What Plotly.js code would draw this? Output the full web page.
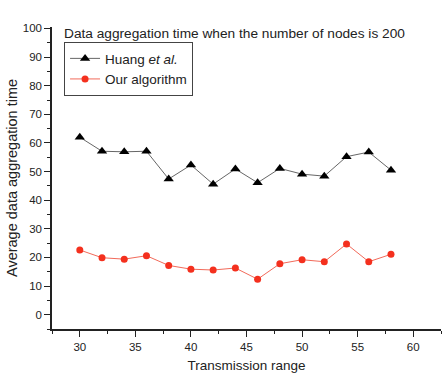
<!DOCTYPE html>
<html><head><meta charset="utf-8">
<script src="https://cdn.plot.ly/plotly-3.0.1.min.js"></script>
<style>body{margin:0;background:#fff}#chart{width:448px;height:384px}</style>
</head><body><div id="chart"></div>
<script>
const ranges = [30,32,34,36,38,40,42,44,46,48,50,52,54,56,58];
const huang = [62.0,57.1,56.9,57.1,47.4,52.3,45.6,50.9,46.1,51.1,49.1,48.4,55.2,56.8,50.5];
const ours = [22.6,19.9,19.4,20.6,17.2,15.9,15.6,16.3,12.4,17.8,19.2,18.5,24.7,18.5,21.1];
const titleText = 'Data aggregation time when the number of nodes is 200';
const seriesNames = ['Huang <i>et al.</i>', 'Our algorithm'];

const traces = [
  {x: ranges, y: huang, name: seriesNames[0], mode: 'lines+markers',
   line: {color: '#666666', width: 1},
   marker: {symbol: 'triangle-up', size: 9, color: '#000000'}},
  {x: ranges, y: ours, name: seriesNames[1], mode: 'lines+markers',
   line: {color: '#f26a5a', width: 1},
   marker: {symbol: 'circle', size: 7, color: '#f4301e'}}
];
const fam = 'Liberation Sans, Arial, sans-serif';
const axisFont = {family: fam, size: 11.5, color: '#222'};
const layout = {
  width: 448, height: 384,
  margin: {l: 52, r: 7, t: 27, b: 55},
  paper_bgcolor: '#fff', plot_bgcolor: '#fff',
  font: {family: fam, color: '#222'},
  showlegend: true,
  legend: {x: 0.031, y: 0.95, xanchor: 'left', yanchor: 'top',
    bordercolor: '#444', borderwidth: 1, bgcolor: '#fff',
    font: {size: 13.5, color: '#222'}, tracegroupgap: 0, itemwidth: 30},
  xaxis: {range: [27.5, 62.5], tickvals: [30,35,40,45,50,55,60],
    ticks: 'outside', ticklen: 6, tickwidth: 1, tickcolor: '#222',
    minor: {dtick: 2.5, tick0: 30, ticks: 'outside', ticklen: 3, tickcolor: '#222'},
    showline: true, linecolor: '#222', linewidth: 1.5, showgrid: false, zeroline: false,
    tickfont: axisFont,
    title: {text: 'Transmission range', font: {size: 13.5, color: '#222'}, standoff: 9}},
  yaxis: {range: [-5, 100.5], tickvals: [0,10,20,30,40,50,60,70,80,90,100],
    ticks: 'outside', ticklen: 6, tickwidth: 1, tickcolor: '#222',
    minor: {dtick: 5, tick0: 0, ticks: 'outside', ticklen: 3, tickcolor: '#222'},
    showline: true, linecolor: '#222', linewidth: 1.5, showgrid: false, zeroline: false,
    tickfont: axisFont,
    title: {text: 'Average data aggregation time', font: {size: 14.5, color: '#222'}, standoff: 2}},
  annotations: [{text: titleText, xref: 'paper', yref: 'paper', x: 0.026, y: 0.977,
    xanchor: 'left', yanchor: 'middle', showarrow: false,
    font: {size: 13.7, color: '#222', family: fam}}]
};
Plotly.newPlot('chart', traces, layout, {displayModeBar: false});
</script></body></html>
